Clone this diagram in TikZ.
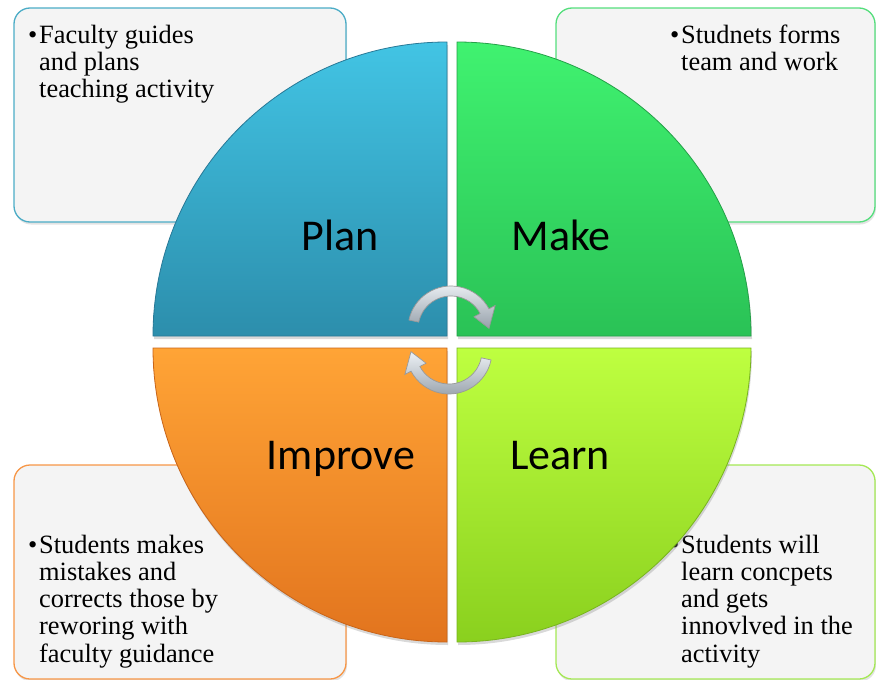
\documentclass[tikz,border=0pt]{standalone}
\usepackage{fontspec}
\setmainfont{Liberation Serif}
\newfontfamily\labelfont{Carlito}
\usetikzlibrary{calc,shadows}

\definecolor{planTop}{RGB}{66,196,228}
\definecolor{planBot}{RGB}{44,142,172}
\definecolor{planEdge}{RGB}{40,120,150}
\definecolor{makeTop}{RGB}{64,242,112}
\definecolor{makeBot}{RGB}{42,194,86}
\definecolor{makeEdge}{RGB}{36,160,72}
\definecolor{impTop}{RGB}{255,164,54}
\definecolor{impBot}{RGB}{226,116,30}
\definecolor{impEdge}{RGB}{200,100,24}
\definecolor{learnTop}{RGB}{190,255,64}
\definecolor{learnBot}{RGB}{138,208,30}
\definecolor{learnEdge}{RGB}{120,180,30}
\definecolor{noteFill}{RGB}{244,244,244}
\definecolor{planLine}{RGB}{75,172,198}
\definecolor{makeLine}{RGB}{84,222,124}
\definecolor{impLine}{RGB}{247,150,70}
\definecolor{learnLine}{RGB}{164,232,84}
\definecolor{silverLight}{RGB}{238,242,246}
\definecolor{silverDark}{RGB}{150,160,170}

\tikzset{
  note/.style={fill=noteFill, line width=1.3pt, rounded corners=16pt,
    drop shadow={opacity=0.22, shadow xshift=1pt, shadow yshift=-2.5pt}},
  notetext/.style={inner sep=0pt, anchor=base west,
    font=\fontsize{26.4}{27.3}\selectfont},
  quad/.style={line width=0.8pt,
    drop shadow={opacity=0.3, shadow xshift=1pt, shadow yshift=-3pt}},
  quadlabel/.style={inner sep=0pt, anchor=base,
    font=\labelfont\fontsize{44}{50}\selectfont},
  cyclearrow/.style={line width=0.7pt, draw=gray!80,
    top color=silverLight, bottom color=silverDark}
}

\newcommand{\bulletlines}[1]{%
  \begin{tabular}[t]{@{}l@{}l@{}}\makebox[11pt][l]{\textbullet}&#1\end{tabular}}

\begin{document}
\begin{tikzpicture}[x=1pt,y=-1pt]
\useasboundingbox (0,0) rectangle (876,680);

% note boxes behind the circle
\draw[note, draw=planLine]  (14,8)   rectangle (346,222);
\draw[note, draw=makeLine]  (556,8)  rectangle (875,222);
\draw[note, draw=impLine]   (14,465) rectangle (346,679);
\draw[note, draw=learnLine] (556,465) rectangle (875,679);

\node[notetext] (tplan) at (28,43)
  {\bulletlines{Faculty guides\\ & and plans\\ & teaching activity}};
\node[notetext] (tmake) at (670,43)
  {\bulletlines{Studnets forms\\ & team and work}};
\node[notetext] (timp) at (28,553)
  {\bulletlines{Students makes\\ & mistakes and\\ & corrects those by\\ & reworing with\\ & faculty guidance}};
\node[notetext] (tlearn) at (670,553)
  {\bulletlines{Students will\\ & learn concpets\\ & and gets\\ & innovlved in the\\ & activity}};

% the four quarter discs
\draw[quad, draw=planEdge, top color=planTop, bottom color=planBot]
  (447,336) -- (153,336) arc[start angle=180, end angle=270, radius=294] -- cycle;
\draw[quad, draw=makeEdge, top color=makeTop, bottom color=makeBot]
  (457,336) -- (457,42) arc[start angle=270, end angle=360, radius=294] -- cycle;
\draw[quad, draw=impEdge, top color=impTop, bottom color=impBot]
  (447,348) -- (153,348) arc[start angle=180, end angle=90, radius=294] -- cycle;
\draw[quad, draw=learnEdge, top color=learnTop, bottom color=learnBot]
  (457,348) -- (751,348) arc[start angle=0, end angle=90, radius=294] -- cycle;

\node[quadlabel] (lplan)  at (340,250) {Plan};
\node[quadlabel] (lmake)  at (561,250) {Make};
\node[quadlabel] (limp)   at (341,469) {Improve};
\node[quadlabel] (llearn) at (560,469) {Learn};

% the two cycle arrows in the middle
\coordinate (ctop) at (451,329);
\coordinate (cbot) at (449,351);
\draw[cyclearrow]
  ($(ctop)+(192:43)$) arc[start angle=192, end angle=332, radius=43]
  -- ($(ctop)+(332:50)$) -- ($(ctop)+(359:38)$) -- ($(ctop)+(332:26)$)
  -- ($(ctop)+(332:33)$) arc[start angle=332, end angle=192, radius=33] -- cycle;
\draw[cyclearrow]
  ($(cbot)+(12:43)$) arc[start angle=12, end angle=152, radius=43]
  -- ($(cbot)+(152:50)$) -- ($(cbot)+(179:38)$) -- ($(cbot)+(152:26)$)
  -- ($(cbot)+(152:33)$) arc[start angle=152, end angle=12, radius=33] -- cycle;
\end{tikzpicture}
\end{document}
